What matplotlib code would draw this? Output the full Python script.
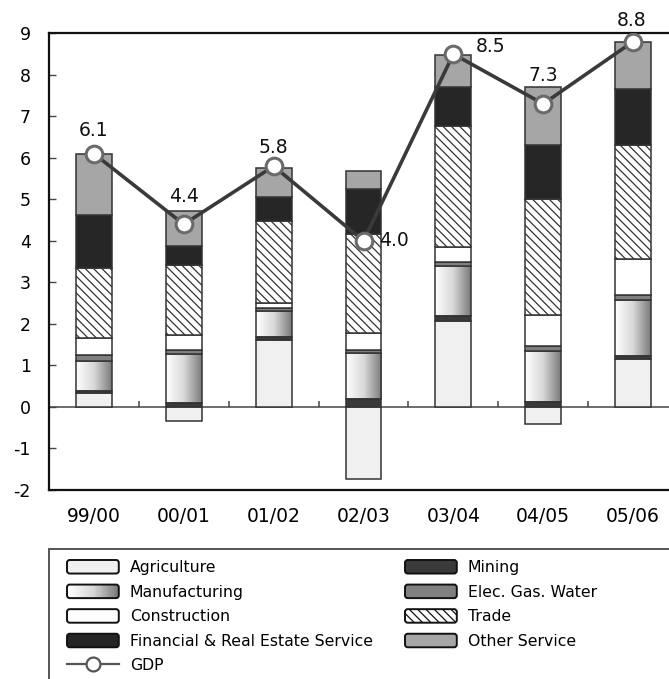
import numpy as np
import matplotlib
matplotlib.use("Agg")
import matplotlib.pyplot as plt
from matplotlib.patches import Rectangle, FancyBboxPatch
from matplotlib.lines import Line2D
from matplotlib.legend_handler import HandlerBase
from matplotlib.colors import LinearSegmentedColormap

plt.rcParams['font.family'] = ['DejaVu Sans']
plt.rcParams['axes.unicode_minus'] = False
plt.rcParams['hatch.linewidth'] = 0.9

# ---- data: contributions to GDP growth (percentage points) ----
years = ["99/00", "00/01", "01/02", "02/03", "03/04", "04/05", "05/06"]
agriculture   = [0.34, -0.35, 1.62, -1.73, 2.06, -0.41, 1.16]
mining        = [0.05, 0.10, 0.07, 0.19, 0.14, 0.12, 0.06]
manufacturing = [0.72, 1.17, 0.61, 1.11, 1.20, 1.22, 1.36]
elec_gas      = [0.13, 0.10, 0.08, 0.08, 0.09, 0.12, 0.12]
construction  = [0.43, 0.36, 0.12, 0.40, 0.36, 0.76, 0.86]
trade         = [1.68, 1.70, 1.97, 2.38, 2.91, 2.78, 2.76]
financial     = [1.28, 0.45, 0.58, 1.10, 0.94, 1.30, 1.34]
other_service = [1.46, 0.83, 0.70, 0.42, 0.78, 1.40, 1.13]
gdp           = [6.1, 4.4, 5.8, 4.0, 8.5, 7.3, 8.8]

series = [
    ("Agriculture", agriculture, dict(facecolor="#f0f0f0")),
    ("Mining", mining, dict(facecolor="#3a3a3a")),
    ("Manufacturing", manufacturing, dict(facecolor="none", gradient=True)),
    ("Elec. Gas. Water", elec_gas, dict(facecolor="#808080")),
    ("Construction", construction, dict(facecolor="#ffffff")),
    ("Trade", trade, dict(facecolor="#ffffff", hatch="\\\\\\\\")),
    ("Financial & Real Estate Service", financial, dict(facecolor="#262626")),
    ("Other Service", other_service, dict(facecolor="#a6a6a6")),
]

grad_cmap = LinearSegmentedColormap.from_list("mfg", ["#ffffff", "#d8d8d8", "#7a7a7a"])

W, H = 669, 679
fig = plt.figure(figsize=(W / 100, H / 100), dpi=100)
ax = fig.add_axes([49 / W, 189 / H, 629 / W, 456.7 / H])

x = np.arange(len(years))
bw = 0.4
edge = "#333333"
pos_base = np.zeros(len(years))
neg_base = np.zeros(len(years))

for name, vals, style in series:
    vals = np.asarray(vals, dtype=float)
    bottoms = np.where(vals >= 0, pos_base, neg_base)
    is_grad = style.get("gradient", False)
    bars = ax.bar(x, vals, bw, bottom=bottoms,
                  facecolor=style["facecolor"], edgecolor=edge, linewidth=1.1,
                  hatch=style.get("hatch"), zorder=2)
    if is_grad:
        grad = np.linspace(0, 1, 256).reshape(1, -1)
        for rect in bars:
            x0, y0 = rect.get_x(), rect.get_y()
            w, h = rect.get_width(), rect.get_height()
            im = ax.imshow(grad, cmap=grad_cmap, aspect="auto",
                           extent=[x0, x0 + w, y0, y0 + h], zorder=1.9,
                           interpolation="bilinear")
            im.set_clip_path(rect)
    pos_base = pos_base + np.where(vals >= 0, vals, 0)
    neg_base = neg_base + np.where(vals < 0, vals, 0)

# GDP line
ax.plot(x, gdp, color="#3a3a3a", lw=2.6, zorder=3,
        marker="o", markersize=12, markerfacecolor="white",
        markeredgecolor="#6a6a6a", markeredgewidth=2.2)

label_offsets = [(0, 23), (0, 28), (0, 19), (30, 0), (37, 8), (0, 28), (-2, 21)]
for xi, g, (dx, dy) in zip(x, gdp, label_offsets):
    ax.annotate(f"{g:.1f}", (xi, g), xytext=(dx, dy), textcoords="offset pixels",
                ha="center", va="center", fontsize=13.5, color="#111111", zorder=5)

ax.set_xlim(-0.5, len(years) - 0.5)
ax.set_ylim(-2, 9)
ax.set_yticks(range(-2, 10))
ax.tick_params(axis="y", direction="in", length=5, width=1, color="#444444",
               labelsize=12.5, pad=13)
ax.set_xticks(x)
ax.set_xticklabels(years)
ax.tick_params(axis="x", length=0, labelsize=13.5, pad=12.5)

for s in ["left", "top", "bottom"]:
    ax.spines[s].set_linewidth(1.6)
    ax.spines[s].set_color("#111111")
ax.spines["right"].set_visible(False)

# zero line with category separators
ax.axhline(0, color="#444444", lw=1.1, zorder=1.5)
ax.vlines(x[:-1] + 0.5, 0, 0.15, color="#444444", lw=1.1, zorder=1.5)


# ---- legend ----
class BoxHandler(HandlerBase):
    def create_artists(self, legend, orig_handle, xdescent, ydescent,
                       width, height, fontsize, trans):
        x0, y0 = -xdescent, -ydescent
        arts = []
        if getattr(orig_handle, "_gradient", False):
            n = 30
            for i in range(n):
                arts.append(Rectangle((x0 + i * width / n, y0), width / n + 0.3, height,
                                      facecolor=grad_cmap(i / (n - 1)), edgecolor="none",
                                      transform=trans))
            fc = "none"
        else:
            fc = orig_handle.get_facecolor()
        box = FancyBboxPatch((x0, y0), width, height,
                             boxstyle="round,pad=0,rounding_size=2",
                             facecolor=fc, edgecolor="#111111", linewidth=1.4,
                             hatch=orig_handle.get_hatch(), transform=trans)
        arts.append(box)
        return arts


proxies = {}
for name, vals, style in series:
    p = Rectangle((0, 0), 1, 1, facecolor=style["facecolor"] if style["facecolor"] != "none" else "white",
                  hatch=style.get("hatch"))
    p._gradient = style.get("gradient", False)
    proxies[name] = p
gdp_handle = Line2D([], [], color="#555555", lw=1.6, marker="o", markersize=10,
                    markerfacecolor="white", markeredgecolor="#555555", markeredgewidth=1.6)

col1 = [proxies["Agriculture"], proxies["Manufacturing"], proxies["Construction"],
        proxies["Financial & Real Estate Service"], gdp_handle]
col1_labels = ["Agriculture", "Manufacturing", "Construction",
               "Financial & Real Estate Service", "GDP"]
col2 = [proxies["Mining"], proxies["Elec. Gas. Water"], proxies["Trade"], proxies["Other Service"]]
col2_labels = ["Mining", "Elec. Gas. Water", "Trade", "Other Service"]

leg_kw = dict(frameon=False, fontsize=11.3, handlelength=3.3, handleheight=0.95,
              handletextpad=0.7, labelspacing=0.6, borderpad=0, borderaxespad=0,
              loc="upper left", numpoints=1,
              handler_map={Rectangle: BoxHandler()})
leg1 = fig.legend(col1, col1_labels, bbox_to_anchor=(67 / W, 1 - 560 / H), **leg_kw)
leg2 = fig.legend(col2, col2_labels, bbox_to_anchor=(405 / W, 1 - 560 / H), **leg_kw)

# legend frame
fig.patches.append(Rectangle((49 / W, -0.05), 1, 0.05 + (H - 549) / H,
                             transform=fig.transFigure, facecolor="none",
                             edgecolor="#555555", linewidth=1.4))

fig.savefig("out.png", dpi=100)
